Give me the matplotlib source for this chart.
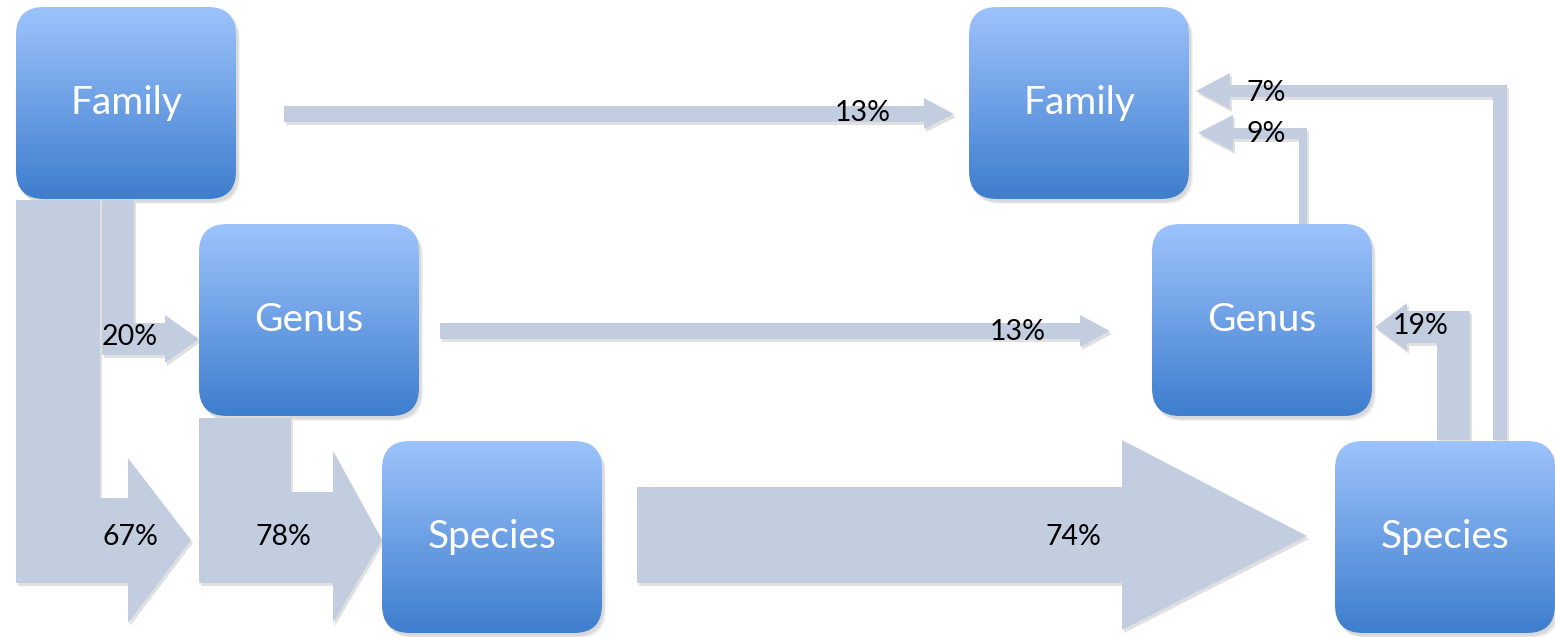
import matplotlib
matplotlib.use("Agg")
import matplotlib.pyplot as plt
from matplotlib.patches import FancyBboxPatch, Polygon
import numpy as np

plt.rcParams["font.family"] = ["Lato", "DejaVu Sans"]

# ----------------------------------------------------------------------
# data: node labels and flow percentages
# ----------------------------------------------------------------------
left_nodes = ["Family", "Genus", "Species"]
right_nodes = ["Family", "Genus", "Species"]
flow_labels = ["20%", "67%", "78%", "13%", "13%", "74%", "7%", "9%", "19%"]

ARROW = "#c3cde0"
TOP_C = np.array([157, 195, 252]) / 255
BOT_C = np.array([62, 126, 206]) / 255

W, H = 1555, 637
fig = plt.figure(figsize=(W / 100, H / 100), dpi=100)
ax = fig.add_axes([0, 0, 1, 1])
ax.set_xlim(0, W)
ax.set_ylim(H, 0)
ax.axis("off")

# box corners (pixel space, y down)
box_xy = [(16, 7), (199, 224), (382, 441), (969, 7), (1152, 224), (1335, 441)]
BW, BH = 220, 192


def box(x, y, label):
    # soft shadow
    for k in range(3):
        sh = FancyBboxPatch((x + 2 + k, y + 3 + k), BW, BH,
                            boxstyle="round,pad=0,rounding_size=28",
                            fc="black", ec="none", alpha=0.05, zorder=1)
        ax.add_patch(sh)
    p = FancyBboxPatch((x, y), BW, BH, boxstyle="round,pad=0,rounding_size=28",
                       fc="none", ec="none", zorder=2)
    ax.add_patch(p)
    t = np.linspace(0, 1, 256)[:, None]
    grad = (TOP_C[None, :] * (1 - t) + BOT_C[None, :] * t)[:, None, :]
    im = ax.imshow(grad, extent=(x, x + BW, y + BH, y), origin="upper",
                   aspect="auto", zorder=2, interpolation="bilinear")
    im.set_clip_path(p)
    ax.text(x + BW / 2, y + BH / 2, label, ha="center", va="center",
            fontsize=28, color="white", zorder=4)


def arrow(pts):
    sh = Polygon([(px + 2, py + 3) for px, py in pts], closed=True,
                 fc="black", ec="none", alpha=0.12, zorder=1)
    ax.add_patch(sh)
    ax.add_patch(Polygon(pts, closed=True, fc=ARROW, ec="none", zorder=3))


# arrows
arrows = [
    # 20%: Family(left) -> Genus(left)
    [(102, 200), (134, 200), (134, 323), (165, 323), (165, 315), (199, 339),
     (165, 363), (165, 355), (102, 355)],
    # 67%: Family(left) -> Species(left)
    [(16, 200), (100, 200), (100, 498), (128, 498), (128, 458), (191, 540),
     (128, 623), (128, 583), (16, 583)],
    # 78%: Genus(left) -> Species(left)
    [(199, 418), (291, 418), (291, 492), (333, 492), (333, 451), (382, 540),
     (333, 623), (333, 583), (199, 583)],
    # 13%: Family -> Family
    [(284, 106), (924, 106), (924, 98), (954, 114), (924, 129), (924, 122), (284, 122)],
    # 13%: Genus -> Genus
    [(440, 323), (1080, 323), (1080, 315), (1110, 331), (1080, 347), (1080, 339), (440, 339)],
    # 74%: Species -> Species
    [(637, 487), (1122, 487), (1122, 440), (1307, 536), (1122, 630), (1122, 583), (637, 583)],
    # 7%: Species(right) -> Family(right)
    [(1507, 440), (1493, 440), (1493, 97), (1230, 97), (1230, 109), (1196, 91),
     (1230, 73), (1230, 85), (1507, 85)],
    # 9%: Genus(right) -> Family(right)
    [(1307, 224), (1299, 224), (1299, 139), (1233, 139), (1233, 151), (1198, 133),
     (1233, 115), (1233, 128), (1307, 128)],
    # 19%: Species(right) -> Genus(right)
    [(1470, 440), (1437, 440), (1437, 343), (1407, 343), (1407, 351), (1375, 327),
     (1407, 303), (1407, 311), (1470, 311)],
]
for pts in arrows:
    arrow(pts)

for (x, y), lab in zip(box_xy, left_nodes + right_nodes):
    box(x, y, lab)

label_xy = [(130, 337), (130, 537), (283, 537), (863, 113), (1018, 332),
            (1073, 537), (1266, 93), (1266, 134), (1421, 326)]
for (x, y), lab in zip(label_xy, flow_labels):
    ax.text(x, y, lab, ha="center", va="center", fontsize=20.5, color="black", zorder=5)

fig.savefig("out.png", dpi=100)
